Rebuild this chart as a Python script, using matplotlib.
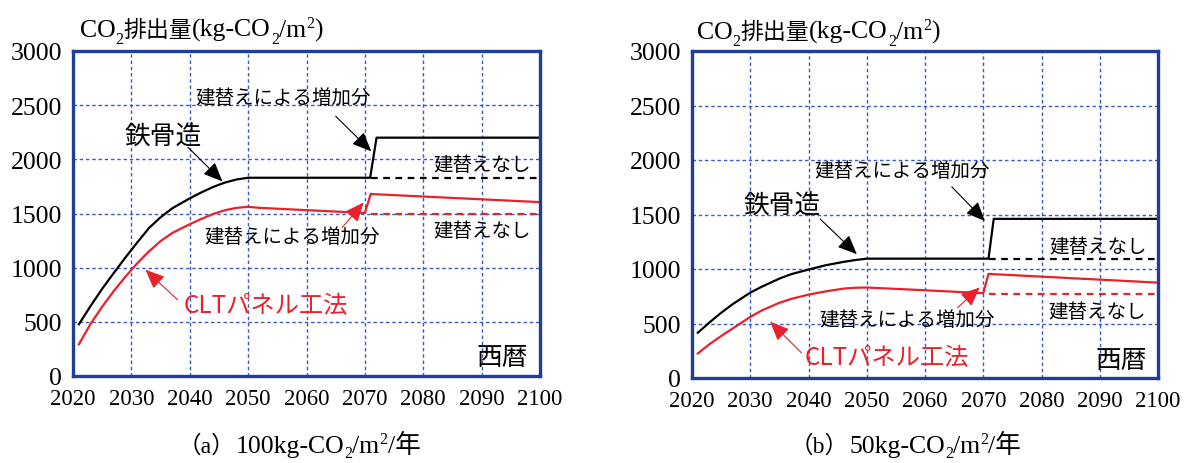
import matplotlib
matplotlib.use('Agg')
import matplotlib.pyplot as plt

SERIF = ['Liberation Serif', 'Noto Sans CJK JP']
GOTH = ['Noto Sans CJK JP', 'DejaVu Sans']
RED = '#e8212b'
SPINE = '#1f3d99'
GRID = '#3a5bc7'

# (a) 100kg-CO2/m2/year
yr_a_steel = [2021, 2023, 2025, 2027, 2029, 2031, 2033, 2035, 2037, 2040, 2042, 2044, 2046, 2048, 2050, 2070.9, 2072, 2100]
steel_a = [477, 645, 805, 952, 1095, 1232, 1365, 1465, 1548, 1640, 1695, 1745, 1785, 1814, 1830, 1830, 2200, 2200]
yr_a_clt = [2021, 2023, 2025, 2027, 2029, 2031, 2033, 2035, 2037, 2040, 2042, 2044, 2046, 2048, 2050, 2052, 2070, 2071, 2100]
clt_a = [292, 480, 640, 785, 918, 1040, 1150, 1245, 1320, 1401, 1450, 1495, 1530, 1552, 1562, 1552, 1505, 1680, 1605]
yr_a_base = [2071, 2100]
steel_a_base = [1830, 1830]
clt_a_base = [1500, 1500]

# (b) 50kg-CO2/m2/year
yr_b_steel = [2021, 2023, 2025, 2027, 2030, 2032, 2035, 2037, 2040, 2043, 2046, 2048, 2050, 2070.9, 2071.8, 2100]
steel_b = [415, 510, 598, 678, 783, 838, 912, 952, 995, 1035, 1065, 1082, 1095, 1095, 1460, 1460]
yr_b_clt = [2021, 2023, 2025, 2027, 2030, 2032, 2035, 2037, 2040, 2043, 2046, 2048, 2050, 2060, 2070, 2070.9, 2100]
clt_b = [225, 310, 385, 455, 560, 620, 690, 725, 765, 795, 820, 828, 830, 805, 778, 955, 875]
yr_b_base = [2071, 2100]
steel_b_base = [1095, 1095]
clt_b_base = [772, 772]

xticks = [2020, 2030, 2040, 2050, 2060, 2070, 2080, 2090, 2100]
yticks = [0, 500, 1000, 1500, 2000, 2500, 3000]

W, H = 1184, 464
fig = plt.figure(figsize=(W / 100, H / 100), dpi=100)
renderer = fig.canvas.get_renderer()


def px_axes(l, t, r, b):
    return fig.add_axes([l / W, 1 - b / H, (r - l) / W, (b - t) / H])


def rich(x, y, parts, size, jsize, sub_dy=7):
    # parts: (text, kind); x, y = pixel position of the baseline start
    for s, k in parts:
        fs = {'n': size, 'j': jsize, 'sub': size * 0.62, 'sup': size * 0.62}[k]
        dy = {'n': 0, 'j': 0, 'sub': sub_dy, 'sup': -9}[k]
        t = fig.text(x / W, 1 - (y + dy) / H, s, fontsize=fs, family=SERIF,
                     ha='left', va='baseline')
        x += t.get_window_extent(renderer).width


def setup(ax):
    ax.set_xlim(2020, 2100)
    ax.set_ylim(0, 3000)
    ax.set_xticks(xticks)
    ax.set_yticks(yticks)
    ax.set_xticklabels([str(v) for v in xticks], family=SERIF, fontsize=16.5)
    ax.set_yticklabels([str(v) for v in yticks], family=SERIF, fontsize=18.5)
    ax.tick_params(length=0, pad=8)
    ax.tick_params(axis='x', pad=9)
    ax.grid(True, color=GRID, lw=1, linestyle=(0, (2.5, 2)))
    for s in ax.spines.values():
        s.set_color(SPINE)
        s.set_linewidth(2.4)
    ax.set_axisbelow(True)


def arrow(ax, xy, xytext, color):
    ax.annotate('', xy=xy, xytext=xytext,
                arrowprops=dict(arrowstyle='-|>,head_length=0.7,head_width=0.3',
                                mutation_scale=17, lw=0.8, color=color,
                                shrinkA=0, shrinkB=0))


def draw(ax, ys, s, yc, c, yb, sb, cb, t):
    setup(ax)
    ax.plot(ys, s, color='black', lw=1.6)
    ax.plot(yc, c, color=RED, lw=1.6)
    ax.plot(yb, sb, color='black', lw=1.6, linestyle=(0, (3, 2.5)))
    ax.plot(yb, cb, color=RED, lw=1.6, linestyle=(0, (3, 2.5)))
    kw = dict(family=GOTH, ha='center', va='center')
    ax.text(*t['up_txt'], '建替えによる増加分', fontsize=14, **kw)
    arrow(ax, t['up_tip'], t['up_from'], 'black')
    ax.text(*t['st_txt'], '鉄骨造', fontsize=18.5, **kw)
    arrow(ax, t['st_tip'], t['st_from'], 'black')
    ax.text(*t['n1'], '建替えなし', fontsize=14, **kw)
    ax.text(*t['n2'], '建替えなし', fontsize=14, **kw)
    ax.text(*t['lo_txt'], '建替えによる増加分', fontsize=14, **kw)
    arrow(ax, t['lo_tip'], t['lo_from'], RED)
    ax.text(*t['clt_txt'], 'CLTパネル工法', fontsize=17.5, color=RED, **kw)
    arrow(ax, t['clt_tip'], t['clt_from'], RED)
    ax.text(*t['seireki'], '西暦', fontsize=18.5, **kw)


ax1 = px_axes(73, 52, 540, 377)
draw(ax1, yr_a_steel, steel_a, yr_a_clt, clt_a, yr_a_base, steel_a_base, clt_a_base, dict(
    up_txt=(2055.9, 2574), up_from=(2065.0, 2398), up_tip=(2071.1, 2074),
    st_txt=(2035.5, 2213), st_from=(2039.7, 2111), st_tip=(2045.6, 1796),
    n1=(2090.0, 1954), n2=(2090.0, 1343),
    lo_txt=(2057.6, 1287), lo_from=(2066.1, 1370), lo_tip=(2069.8, 1602),
    clt_txt=(2053.0, 657), clt_from=(2037.9, 704), clt_tip=(2032.4, 981),
    seireki=(2093.5, 176)))

ax2 = px_axes(692, 52, 1158, 379)
draw(ax2, yr_b_steel, steel_b, yr_b_clt, clt_b, yr_b_base, steel_b_base, clt_b_base, dict(
    up_txt=(2056.0, 1902), up_from=(2064.6, 1754), up_tip=(2070.3, 1440),
    st_txt=(2035.5, 1579), st_from=(2042.0, 1459), st_tip=(2048.3, 1136),
    n1=(2089.7, 1210), n2=(2089.5, 609),
    lo_txt=(2056.9, 536), lo_from=(2065.6, 646), lo_tip=(2069.4, 831),
    clt_txt=(2053.5, 194), clt_from=(2038.8, 231), clt_tip=(2033.4, 517),
    seireki=(2093.7, 166)))

ylab = [('CO', 'n'), ('2', 'sub'), ('排出量', 'j'), ('(kg-CO', 'n'), ('2', 'sub'),
        ('/m', 'n'), ('2', 'sup'), (')', 'n')]
rich(80, 37, ylab, 18.5, 16.5)
rich(697, 39, ylab, 18.5, 16.5)

rich(178, 453, [('（a）', 'j'), ('100kg-CO', 'n'), ('2', 'sub'), ('/m', 'n'),
                ('2', 'sup'), ('/年', 'n')], 18.5, 17, sub_dy=5)
rich(790, 453, [('（b）', 'j'), ('50kg-CO', 'n'), ('2', 'sub'), ('/m', 'n'),
                ('2', 'sup'), ('/年', 'n')], 18.5, 17, sub_dy=5)

fig.savefig('out.png', dpi=100)
